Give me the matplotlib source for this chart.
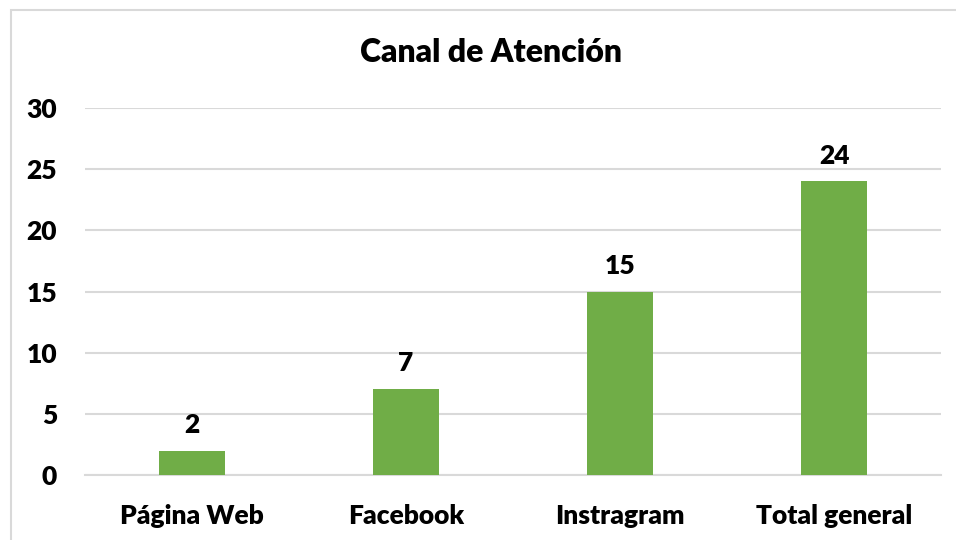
import matplotlib
matplotlib.use('Agg')
import matplotlib.pyplot as plt
from matplotlib.patches import Rectangle

categories = ['Página Web', 'Facebook', 'Instragram', 'Total general']
values = [2, 7, 15, 24]
y_ticks = [0, 5, 10, 15, 20, 25, 30]

plt.rcParams['font.family'] = ['Lato', 'DejaVu Sans']
plt.rcParams['font.weight'] = 'bold'

W, H = 956, 540
fig = plt.figure(figsize=(W / 100, H / 100), dpi=100)
ax = fig.add_axes([85 / W, 1 - 475 / H, (941 - 85) / W, (475 - 108) / H])

# chart frame (grey border)
fig.patches.append(Rectangle((10.5 / W, -0.1), 1.2, 1.1 - 10.5 / H, transform=fig.transFigure,
                             fill=False, edgecolor='#d9d9d9', linewidth=1.5))

x = range(len(categories))
bars = ax.bar(x, values, width=0.31, color='#70ad47', zorder=3)

for xi, v in zip(x, values):
    ax.annotate(str(v), (xi, v), xytext=(0, 10), textcoords='offset points',
                ha='center', va='bottom', fontsize=19, fontweight='heavy', color='black')

ax.set_xlim(-0.5, len(categories) - 0.5)
ax.set_ylim(0, 30)
ax.set_yticks(y_ticks)
ax.set_xticks(list(x))
ax.set_xticklabels(categories, fontweight='heavy')
ax.set_yticklabels([str(t) for t in y_ticks], fontweight='heavy')
ax.tick_params(axis='both', length=0, labelsize=19, colors='black')
ax.tick_params(axis='y', pad=20)
ax.tick_params(axis='x', pad=21)

ax.grid(axis='y', color='#d9d9d9', linewidth=1.5, zorder=0)
for s in ['top', 'right', 'left']:
    ax.spines[s].set_visible(False)
ax.spines['bottom'].set_color('#d9d9d9')
ax.spines['bottom'].set_linewidth(1.5)

fig.text(491 / W, 1 - 53 / H, 'Canal de Atención', ha='center', va='center',
         fontsize=23, fontweight='heavy', color='black')

fig.savefig('out.png', dpi=100)
